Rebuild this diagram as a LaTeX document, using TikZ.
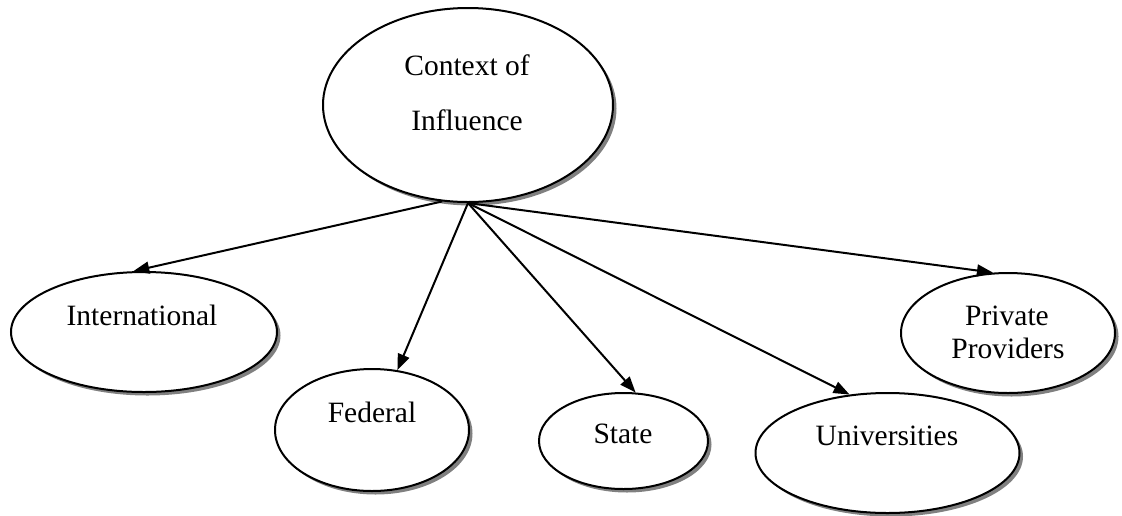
\documentclass[tikz,border=0pt]{standalone}
\usepackage{fontspec}
\setmainfont{Liberation Serif}
\usetikzlibrary{shapes.geometric,shadows,arrows.meta}
\begin{document}
\begin{tikzpicture}[x=1pt,y=-1pt,
  oval/.style={ellipse,draw,line width=2pt,fill=white,inner sep=0pt,
    drop shadow={shadow xshift=3.5pt,shadow yshift=-3.5pt,fill=black!50,opacity=1}},
  lbl/.style={anchor=base,inner sep=0pt,font=\fontsize{29.5}{34}\selectfont},
  link/.style={line width=2pt,-{Triangle[length=16pt,width=12pt]}}]
\useasboundingbox (0,0) rectangle (1122,515);

% ellipses
\node[oval,minimum width=290pt,minimum height=194pt] (ctx)  at (468,105) {};
\node[oval,minimum width=266pt,minimum height=120pt] (intl) at (144,332) {};
\node[oval,minimum width=194pt,minimum height=122pt] (fed)  at (372,430) {};
\node[oval,minimum width=169pt,minimum height=96pt]  (st)   at (623.5,441) {};
\node[oval,minimum width=264pt,minimum height=120pt] (uni)  at (887.5,453) {};
\node[oval,minimum width=214pt,minimum height=120pt] (priv) at (1008,333) {};

% labels
\node[lbl] (ctx1) at (467,75)  {Context of};
\node[lbl] (ctx2) at (467,130) {Influence};
\node[lbl] (intlt) at (142,325) {International};
\node[lbl] (fedt)  at (372,422) {Federal};
\node[lbl] (stt)   at (623,443) {State};
\node[lbl] (unit)  at (887,445) {Universities};
\node[lbl] (priv1) at (1007,325) {Private};
\node[lbl] (priv2) at (1008,358) {Providers};

% connectors
\draw[link] (ctx.255)   -- (intl.100);
\draw[link] (ctx.south) -- (fed.67);
\draw[link] (ctx.south) -- (st.76);
\draw[link] (ctx.south) -- (uni.123);
\draw[link] (ctx.south) -- (priv.104);
\end{tikzpicture}
\end{document}
